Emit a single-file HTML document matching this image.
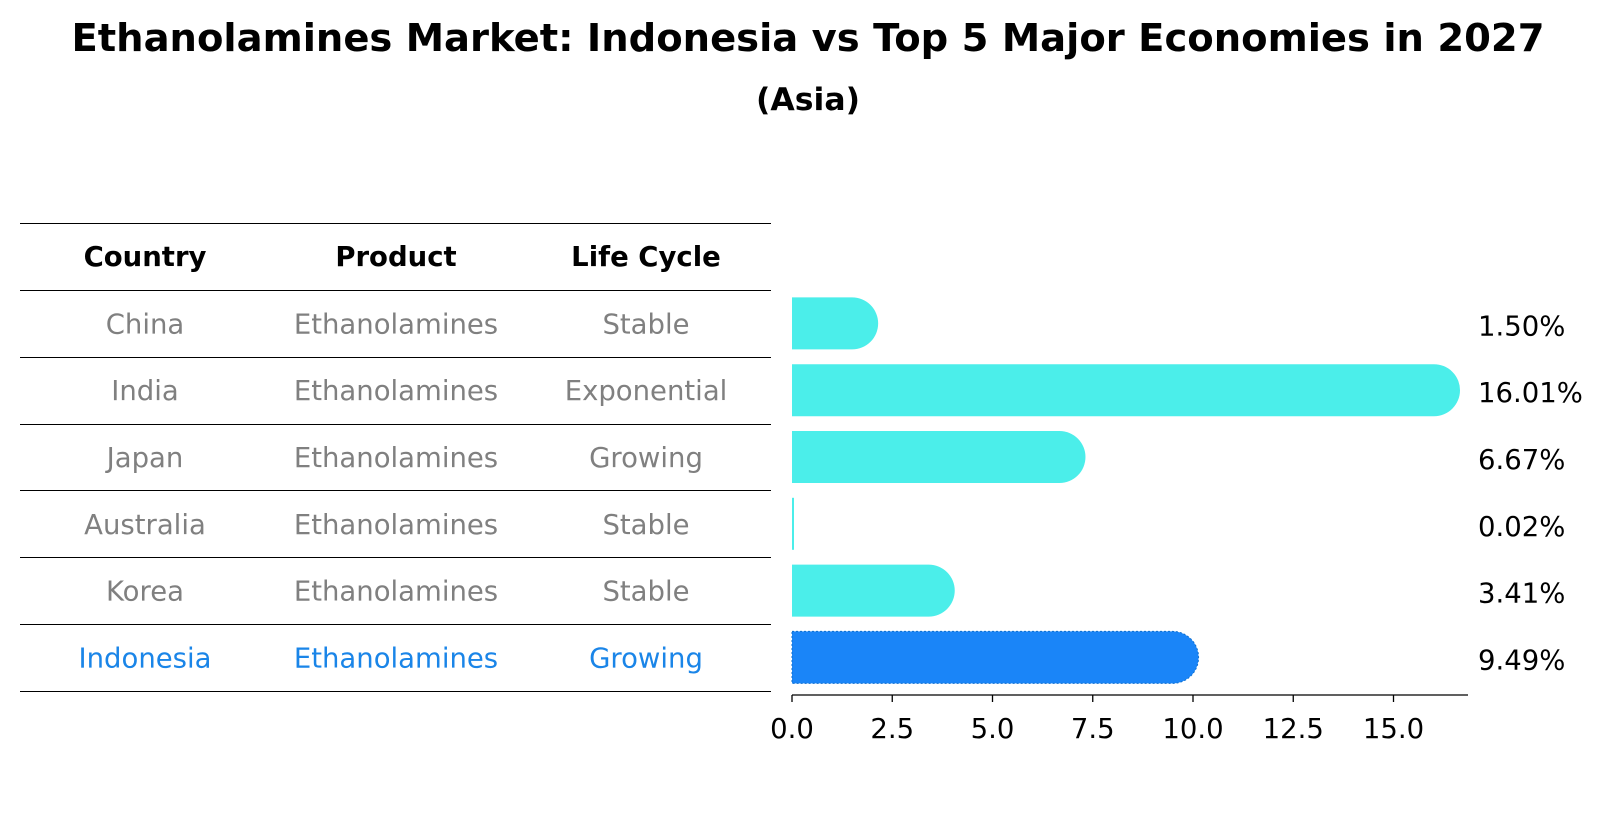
<!DOCTYPE html>
<html><head><meta charset="utf-8"><style>
body{margin:0;width:1604px;height:823px;background:#fff;font-family:"Liberation Sans","DejaVu Sans",sans-serif;overflow:hidden}
</style></head><body>
<svg width="1604" height="823" xmlns="http://www.w3.org/2000/svg">
<text x="808" y="51" text-anchor="middle" font-size="38.5" font-weight="bold" font-family="DejaVu Sans, sans-serif">Ethanolamines Market: Indonesia vs Top 5 Major Economies in 2027</text>
<text x="808" y="110" text-anchor="middle" font-size="31.5" font-weight="bold" font-family="DejaVu Sans, sans-serif">(Asia)</text>
<g id="table" font-family="DejaVu Sans, sans-serif" font-size="27.5" text-anchor="middle"></g>
<g id="bars" font-family="DejaVu Sans, sans-serif"></g>
</svg>
<script>
const countries=["China","India","Japan","Australia","Korea","Indonesia"];
const products=["Ethanolamines","Ethanolamines","Ethanolamines","Ethanolamines","Ethanolamines","Ethanolamines"];
const lifeCycles=["Stable","Exponential","Growing","Stable","Stable","Growing"];
const values=[1.50,16.01,6.67,0.02,3.41,9.49];
const ticks=[0,2.5,5,7.5,10,12.5,15];
const NS="http://www.w3.org/2000/svg";
function mk(t,a,p){const e=document.createElementNS(NS,t);for(const k in a)e.setAttribute(k,a[k]);p.appendChild(e);return e;}
const tbl=document.getElementById('table'),bars=document.getElementById('bars');
const rowTop=290,rowH=66.8,cols=[145,396,646];
function yRow(i){return rowTop+rowH*(i+0.5);}
function xs(v){return 792+v*40.1;}
const lineYs=[223];for(let i=0;i<=countries.length;i++)lineYs.push(rowTop+rowH*i);
lineYs.forEach(y=>{const l=mk('line',{x1:20,x2:771,y1:Math.round(y)+0.5,y2:Math.round(y)+0.5,stroke:'#000','stroke-width':1.1},tbl);

});
["Country","Product","Life Cycle"].forEach((h,j)=>{const t=mk('text',{x:cols[j],y:266,'font-weight':'bold'},tbl);t.textContent=h;

});
countries.forEach((c,i)=>{const col=i===countries.length-1?'#1a85e8':'#808080';
[c,products[i],lifeCycles[i]].forEach((s,j)=>{const t=mk('text',{x:cols[j],y:yRow(i)+10,fill:col},tbl);t.textContent=s;

});});
const bh=52,r=26;
values.forEach((v,i)=>{const y=yRow(i)-bh/2,x0=xs(0),x1=xs(v);const last=i===values.length-1;
const col=last?'#1a85f8':'#4beeea';
let d;
if(v<0.1){d=`M${x0},${y}h2v${bh}h-2z`;}
else d=`M${x0},${y}H${x1}A${r},${r} 0 0 1 ${x1},${y+bh}H${x0}Z`;
const p=mk('path',{d:d,fill:col},bars);
if(last){p.setAttribute('stroke','#0e6fd0');p.setAttribute('stroke-dasharray','2,2');p.setAttribute('stroke-width','1');}


const t=mk('text',{x:1478,y:yRow(i)+12,'font-size':27.5},bars);t.textContent=v.toFixed(2)+'%';

});
const ax=mk('line',{x1:792,x2:1468,y1:695,y2:695,stroke:'#000','stroke-width':1.3},bars);


ticks.forEach(v=>{const tl=mk('line',{x1:xs(v),x2:xs(v),y1:695,y2:702,stroke:'#000','stroke-width':1.3},bars);


const t=mk('text',{x:xs(v),y:738,'font-size':27.5,'text-anchor':'middle'},bars);t.textContent=v.toFixed(1);

});
</script>
</body></html>
